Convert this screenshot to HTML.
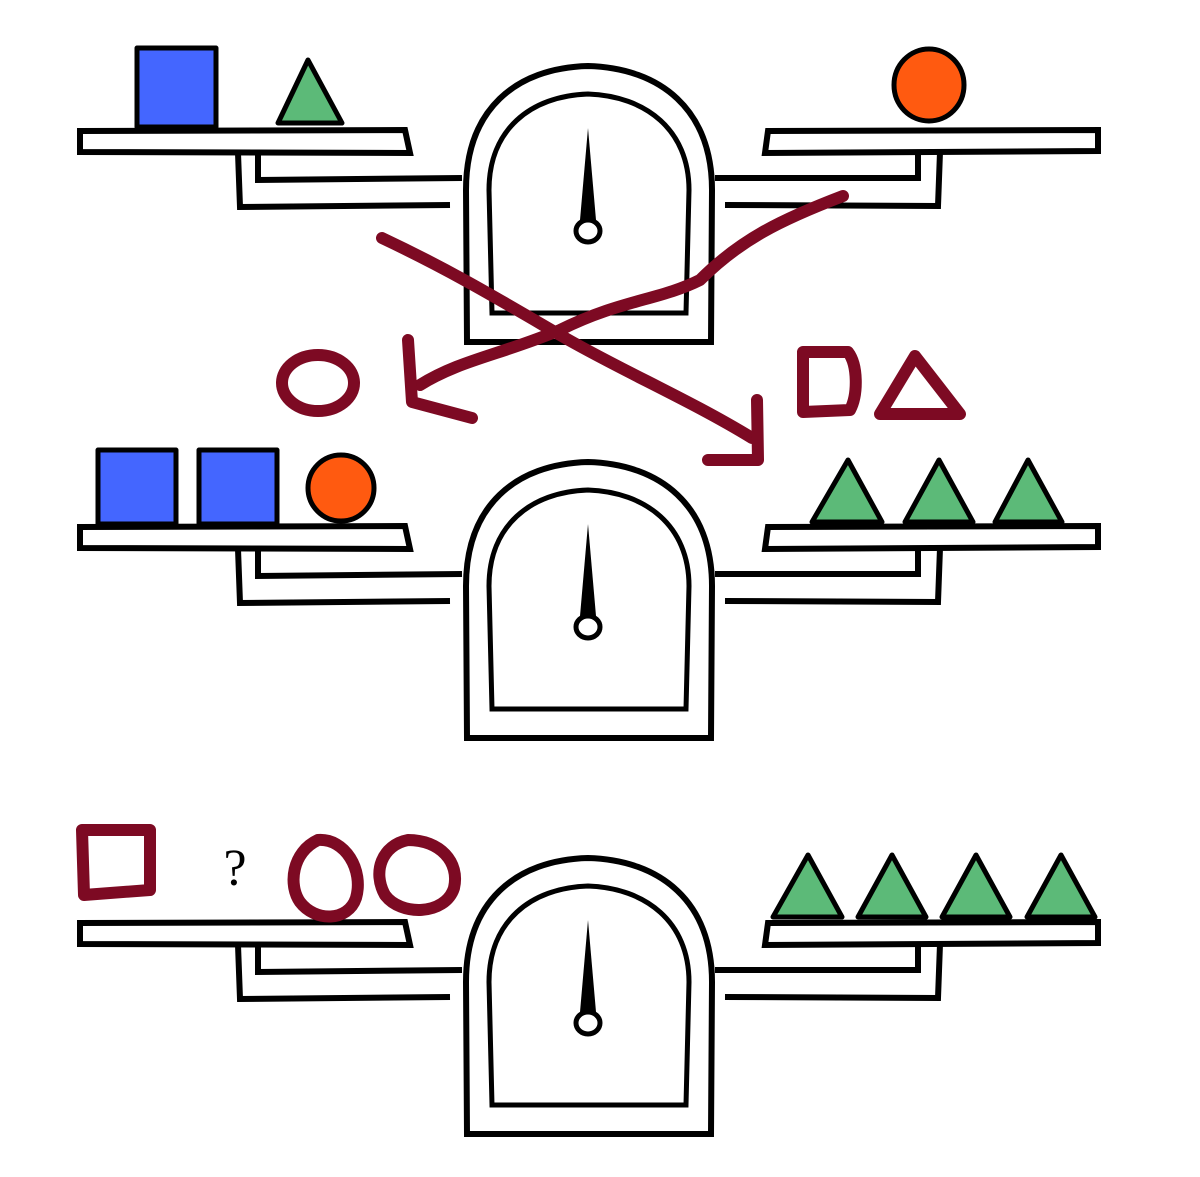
<!DOCTYPE html>
<html><head><meta charset="utf-8"><style>
html,body{margin:0;padding:0;background:#fff;width:1200px;height:1177px;overflow:hidden}
svg{display:block}
</style></head><body>
<svg width="1200" height="1177" viewBox="0 0 1200 1177">
<defs>
<g id="scale">
  <path d="M80,131 L405,130 L410,153 L80,152 Z" fill="#fff" stroke="#000" stroke-width="6"/>
  <path d="M768,131 L1098,130 L1098,151 L765,153 Z" fill="#fff" stroke="#000" stroke-width="6"/>
  <path d="M258,153 L258,180 L462,178" fill="none" stroke="#000" stroke-width="6"/>
  <path d="M238,153 L240,207 L450,205" fill="none" stroke="#000" stroke-width="6"/>
  <path d="M918,152 L918,178 L715,178" fill="none" stroke="#000" stroke-width="6"/>
  <path d="M940,152 L938,206 L725,205" fill="none" stroke="#000" stroke-width="6"/>
  <path d="M467,342 L466,190 C466,110 515,68 588,66 C661,68 712,110 712,190 L711,342 Z" fill="#fff" stroke="#000" stroke-width="6"/>
  <path d="M492,313 L489,190 C489,130 530,96 588,94 C646,96 689,130 689,190 L686,313 Z" fill="#fff" stroke="#000" stroke-width="5"/>
  <path d="M588,128 L580,220 L596,220 Z" fill="#000"/>
  <ellipse cx="588" cy="231" rx="12" ry="11" fill="#fff" stroke="#000" stroke-width="5"/>
</g>
</defs>
<use href="#scale"/>
<use href="#scale" y="396"/>
<use href="#scale" y="792"/>

<g stroke="#000" stroke-width="5" stroke-linejoin="round">
  <rect x="137" y="48" width="79" height="79" fill="#4466ff"/>
  <path d="M278,123 L308,60 L342,123 Z" fill="#5cba78"/>
  <ellipse cx="929" cy="85" rx="35" ry="36" fill="#ff5a10"/>

  <rect x="98" y="450" width="78" height="74" fill="#4466ff"/>
  <rect x="199" y="450" width="78" height="74" fill="#4466ff"/>
  <circle cx="341" cy="488" r="33" fill="#ff5a10"/>
  <path d="M812,522 L848,460 L882,522 Z" fill="#5cba78"/>
  <path d="M905,522 L939,460 L973,522 Z" fill="#5cba78"/>
  <path d="M995,522 L1028,460 L1062,522 Z" fill="#5cba78"/>

  <path d="M773,917 L808,855 L842,917 Z" fill="#5cba78"/>
  <path d="M858,917 L892,855 L926,917 Z" fill="#5cba78"/>
  <path d="M942,917 L976,855 L1010,917 Z" fill="#5cba78"/>
  <path d="M1027,917 L1061,855 L1095,917 Z" fill="#5cba78"/>
</g>

<g fill="none" stroke="#7d0a23" stroke-width="12" stroke-linecap="round" stroke-linejoin="round">
  <path d="M382,238 C450,270 500,300 560,335 C620,370 690,400 752,438"/>
  <path d="M757,400 L758,460 L708,460"/>
  <path d="M843,196 C780,220 740,240 700,280 C660,300 620,300 560,330 C500,355 460,360 420,385"/>
  <path d="M408,340 L412,402 L472,418"/>
  <ellipse cx="318" cy="383" rx="36" ry="28"/>
  <path d="M803,352 L803,412 L850,410 C858,395 858,365 848,352 Z"/>
  <path d="M880,414 L915,356 L960,414 Z"/>
  <path d="M82,830 L84,895 L150,890 L150,830 Z"/>
  <path d="M318,840 C292,852 288,885 300,902 C315,922 348,922 356,898 C364,870 345,838 318,840 Z"/>
  <path d="M408,840 C382,845 372,872 385,895 C400,916 445,916 454,888 C460,862 440,840 408,840 Z"/>
</g>
<text x="235" y="885" font-family="Liberation Serif, serif" font-size="52" text-anchor="middle" fill="#000">?</text>
</svg>
</body></html>
